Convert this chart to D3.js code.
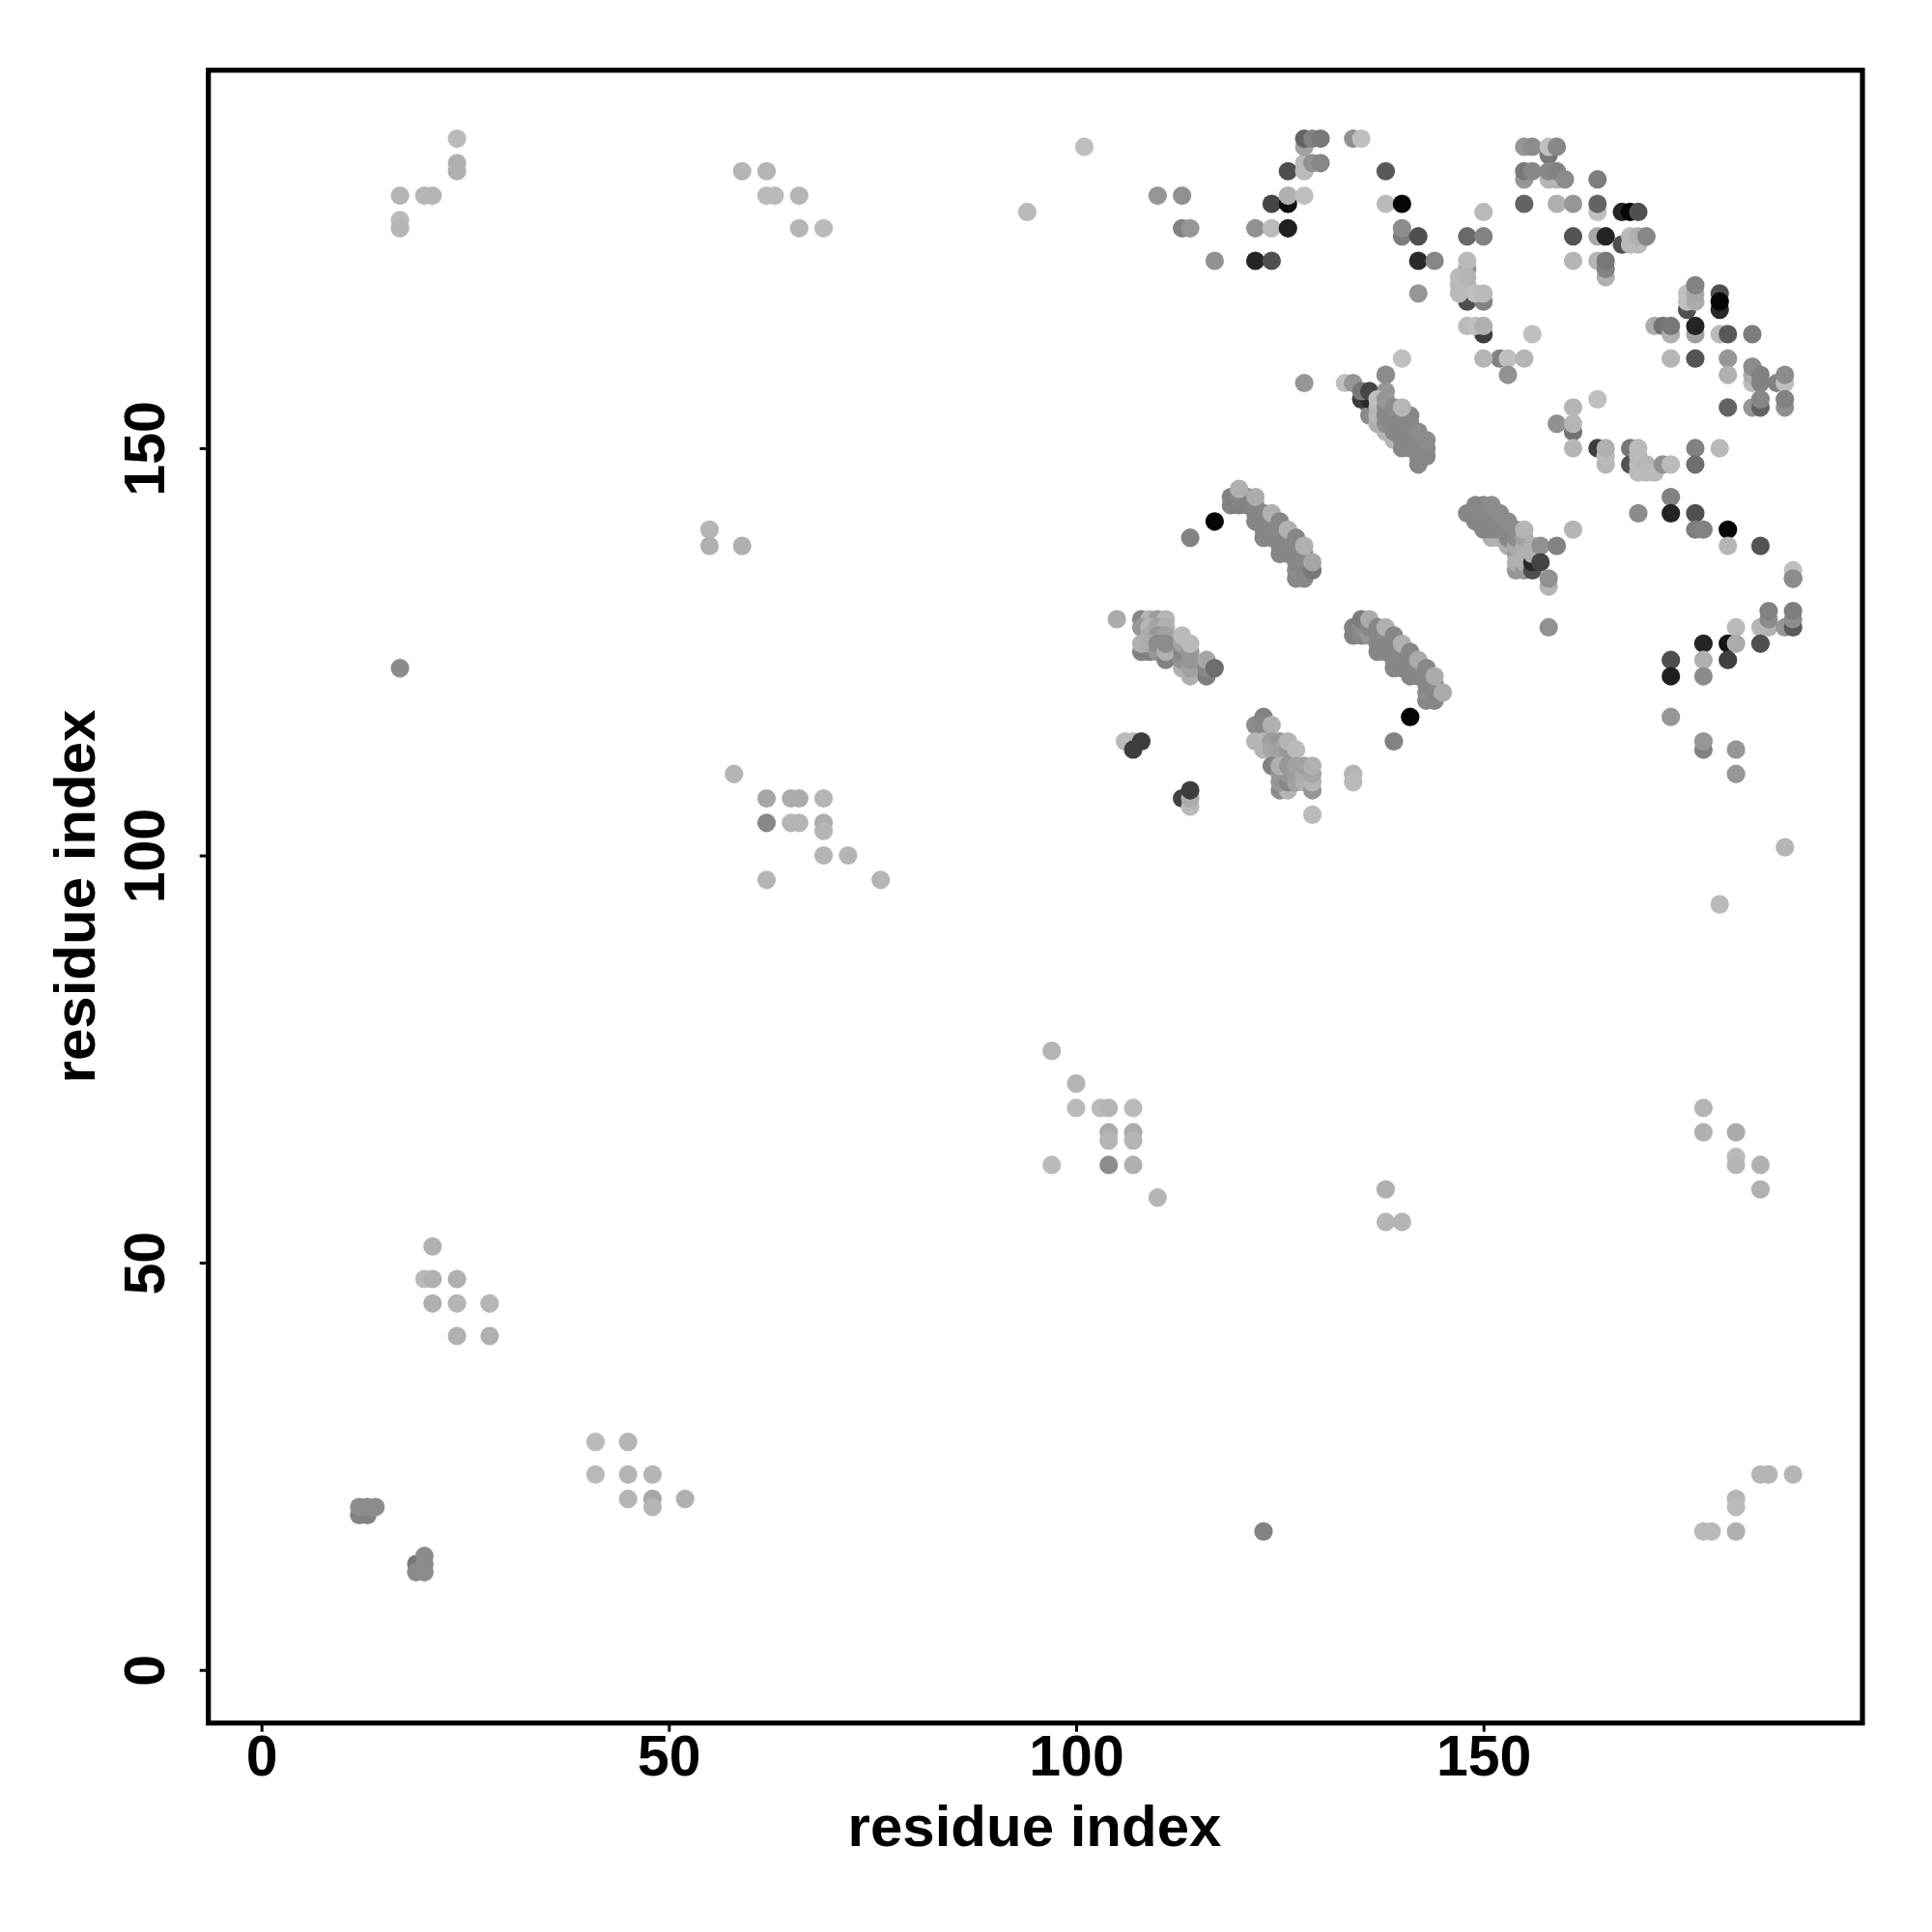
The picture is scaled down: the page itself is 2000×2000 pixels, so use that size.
<!DOCTYPE html>
<html><head><meta charset="utf-8">
<script src="https://cdn.jsdelivr.net/npm/d3@7/dist/d3.min.js"></script>
<style>html,body{margin:0;background:#fff}svg{display:block}</style></head>
<body><svg id="c" width="2000" height="2000"></svg>
<script>
const xTicks=[0,50,100,150];
const yTicks=[0,50,100,150];
const xTitle="residue index", yTitle="residue index";
// each contact: [residue i, residue j, strength 0-100]
const farContacts=[
[24,188,27],[24,185,31],[24,184,31],[17,181,29],[20,181,29],[21,181,29],[17,178,27],[17,177,29],
[59,184,29],[62,184,29],[62,181,27],[63,181,27],[66,181,29],[66,177,29],[69,177,27],[94,179,27],
[55,140,29],[55,138,31],[59,138,31],[17,123,45],
[58,110,29],[62,107,35],[65,107,33],[66,107,33],[69,107,29],[62,104,47],[65,104,29],[66,104,29],[69,104,33],[69,103,29],[69,100,29],[72,100,29],[62,97,29],[76,97,29],
[97,76,29],[100,72,29],[100,69,27],[103,69,27],[104,69,29],[107,69,27],[104,66,33],[104,65,29],[107,66,33],[107,65,29],[97,62,27],[104,62,45],[107,62,31],[110,58,29],
[138,59,31],[138,55,29],[140,55,29],[177,69,29],[177,66,31],[181,66,33],[181,63,27],[181,62,29],[184,62,31],[184,59,31],
[21,52,31],[20,48,27],[21,48,31],[24,48,31],[21,45,31],[24,45,29],[28,45,29],[24,41,31],[28,41,31],
[41,28,27],[45,28,29],[41,24,27],[45,24,29],[48,24,29],[45,21,29],[48,21,35],[52,21,31],[48,20,29],
[123,17,49],[184,24,29],[185,24,29],[188,24,29],[181,21,29],[181,20,27],[177,17,27],[178,17,27],[181,17,31],
[12,19,49],[13,19,49],[12,20,45],[13,20,45],[14,20,45],[19,13,53],[19,12,45],[20,14,45],[20,13,45],[20,12,45],
[187,101,29],[179,94,27],[158,128,43]
];
const topContacts=[
[101,187,25],[110,181,41],[113,181,43],[113,177,49],[114,177,41],[117,173,43],[122,173,86],[124,173,69],[122,177,43],[124,177,27],[126,177,88],
[124,180,73],[126,180,94],[126,181,31],[128,181,25],[126,184,69],[128,184,27],[128,185,27],[129,185,43],[130,185,47],[128,187,37],[128,188,61],[129,188,49],[130,188,53],
[134,188,43],[135,188,25],[138,184,65],[138,180,27],[140,180,98],[140,176,51],[140,177,45],[142,176,69],[142,173,84],[144,173,47],[142,169,41],[140,161,25],[138,159,45],[128,158,41],
[155,187,41],[156,187,45],[158,186,53],[158,187,25],[159,187,47],[155,183,41],[158,183,29],[159,183,29],[155,184,53],[156,184,47],[158,184,47],[159,184,49],[160,183,45],[164,183,51],
[155,180,61],[159,180,31],[161,180,41],[164,179,25],[164,180,61],[150,179,27],[167,179,86],[168,179,98],[169,179,69],
[148,176,59],[150,176,49],[161,176,67],[164,176,35],[165,176,86],[167,175,69],[168,176,27],[168,175,27],[169,175,27],[169,176,31],[170,176,47],
[161,173,29],[164,173,29],[165,171,31],[165,172,49],[165,173,53],[148,172,41],[148,173,27],[148,168,69],[150,168,49],[147,171,27],[147,170,27],[148,171,29],[148,170,29],[147,169,27],[149,169,25],[150,169,27],
[150,164,76],[148,165,27],[149,165,25],[150,165,31],[156,164,25],[152,161,49],[150,161,29],[153,161,25],[155,161,29],[153,159,43],[161,155,29],[164,156,25],
[159,153,43],[161,152,55],[161,153,29],[161,150,29],
[175,167,69],[175,169,25],[175,168,25],[176,168,33],[176,169,35],[176,170,49],[179,169,69],[179,167,84],[179,168,98],
[171,165,33],[172,165,55],[173,164,31],[173,165,53],[176,164,37],[176,165,86],[179,164,27],[180,164,65],[183,164,51],[173,161,29],[176,161,67],[180,161,41],[180,159,31],
[183,158,27],[183,159,33],[183,160,45],[184,158,49],[184,159,49],[186,158,49],[187,158,25],[187,159,45],[180,155,61],[183,155,41],[184,155,61],[184,156,47],[187,155,43],[187,156,49]
];
const rightContacts=[
[164,150,76],[165,148,29],[165,149,27],[165,150,31],[168,150,53],[168,148,67],[169,150,27],[169,149,27],[169,148,27],[169,147,27],[170,148,29],[170,147,27],[171,147,27],[172,148,43],[173,148,27],
[176,150,49],[176,148,57],[179,150,27],[173,144,49],[173,142,86],[169,142,45],[176,142,69],[176,140,51],[177,140,49],[180,140,98],[180,138,29],[184,138,67],[188,134,65],[188,135,25],
[188,134,45],[185,128,31],[184,128,29],[187,128,41],[188,128,65],[185,129,45],[185,130,49],[188,129,45],[188,130,51],[181,128,27],[180,126,92],[181,126,33],[184,126,69],[177,126,86],[177,124,31],[180,124,75],[173,124,69],[173,122,88],[177,122,45],
[173,117,41],[177,113,49],[177,114,41],[181,113,41],[181,110,41]
];
const bandContacts=[
// upper-right diagonal
[133,158,25],[134,158,41],[138,159,45],[136,154,45],[136,155,45],[135,156,76],[136,156,84],[135,157,53],[136,157,73],[138,157,41],
[138,152,29],[139,151,29],[137,153,31],[137,154,29],[137,155,29],[137,156,25],[138,153,45],[138,154,47],[138,155,47],[138,156,41],[139,152,47],[139,153,47],[139,154,47],[139,155,45],
[140,150,47],[140,151,47],[140,152,47],[140,153,47],[140,154,47],[141,150,47],[141,151,47],[141,152,47],[141,153,47],[141,154,47],
[142,148,47],[142,149,47],[142,150,47],[142,151,47],[142,152,45],[143,149,47],[143,150,47],[143,151,45],[140,155,29],
// middle diagonal
[148,142,47],[149,141,47],[149,142,47],[149,143,47],[151,139,31],[152,139,31],[150,140,47],[150,141,47],[150,142,47],[150,143,47],[151,140,47],[151,141,47],[151,142,47],[151,143,45],[152,140,47],[152,141,47],[152,142,45],
[153,138,31],[153,139,47],[153,140,47],[153,141,45],[154,135,41],[154,137,41],[154,136,31],[154,138,33],[154,139,45],[154,140,45],[155,135,41],[155,136,31],[155,137,31],[155,138,31],[155,139,37],[155,140,29],
[156,135,69],[156,136,84],[156,138,31],[156,137,31],[157,138,43],[159,138,49],[161,140,29],[157,136,73],[158,133,29],[158,134,43],
// upper-left diagonal
[117,141,98],[114,139,49],[119,143,49],[119,144,49],[120,143,49],[120,144,47],[121,143,49],[121,144,49],[120,145,31],
[122,141,47],[122,142,47],[122,143,47],[122,144,33],[123,139,47],[123,140,47],[123,141,47],[123,142,47],[124,139,47],[124,140,47],[124,141,47],[124,142,31],
[125,137,47],[125,138,47],[125,139,47],[125,140,47],[125,141,47],[126,137,47],[126,138,47],[126,139,47],[126,140,31],
[127,134,47],[127,135,45],[127,136,47],[127,137,47],[127,138,47],[127,139,47],[128,134,47],[128,135,47],[128,136,47],[128,137,47],[128,138,31],[129,135,53],[129,136,35],
// lower-right diagonal
[134,127,49],[134,128,49],[135,127,47],[135,128,45],[135,129,51],[136,127,41],[136,128,47],[136,129,33],
[137,125,47],[137,126,47],[137,127,47],[137,128,47],[138,125,47],[138,126,47],[138,127,47],[138,128,31],
[139,123,47],[139,124,47],[139,125,47],[139,126,47],[139,127,47],[140,123,47],[140,124,47],[140,125,47],[140,126,31],
[141,122,47],[141,123,47],[141,124,47],[141,125,47],[142,122,47],[142,123,47],[142,124,33],
[143,119,47],[143,120,45],[143,121,47],[143,122,47],[143,123,47],[144,119,47],[144,120,47],[144,121,47],[144,122,33],[145,120,33],[141,117,98],[139,114,49],
// lower-left diagonal
[105,129,33],[108,129,47],[109,129,29],[110,129,39],[111,129,29],[108,128,41],[109,128,29],[110,128,37],[111,128,31],[109,127,33],[110,127,41],[111,127,37],
[109,125,49],[108,125,49],[108,126,31],[109,126,33],[110,125,41],[110,126,45],[111,124,49],[111,125,31],[111,126,45],
[113,123,31],[113,124,43],[113,125,47],[113,126,37],[113,127,27],[114,122,31],[114,123,37],[114,124,41],[114,125,41],[114,126,27],
[116,122,51],[116,123,47],[116,124,35],[117,123,57],
// lowest cluster
[106,114,27],[107,114,27],[107,113,76],[108,114,76],[113,107,75],[114,106,27],[114,107,33],[114,108,76],
[122,116,45],[123,117,49],[123,116,47],[124,116,31],[122,114,29],[123,114,29],[123,113,29],[124,114,39],[124,113,35],[125,114,41],[125,113,37],[126,113,41],[126,114,29],[127,113,27],
[124,111,49],[125,108,45],[126,108,29],[125,109,41],[125,110,41],[126,109,47],[126,110,41],[125,111,31],[126,111,41],[127,109,37],[127,110,39],[127,111,37],[128,109,31],[128,110,33],[128,111,37],
[129,108,41],[129,109,29],[129,110,35],[129,111,31],[129,105,27],[134,110,29],[134,109,27]
];
const contacts=[...farContacts,...topContacts,...rightContacts,...bandContacts];

const x=d3.scaleLinear().domain([-6.52,196.4]).range([215.7,1927]);
const y=d3.scaleLinear().domain([-6.52,196.4]).range([1783.7,72.7]);
const shade=d3.scaleLinear().domain([0,100]).range(["#ffffff","#000000"]);
const svg=d3.select("#c");
const font="'Liberation Sans',Arial,sans-serif";

svg.append("g").selectAll("circle").data(contacts).join("circle")
  .attr("cx",d=>x(d[0])).attr("cy",d=>y(d[1])).attr("r",9.6).attr("fill",d=>shade(d[2]));

const ax=svg.append("g").attr("transform","translate(0,1783.7)")
  .call(d3.axisBottom(x).tickValues(xTicks).tickSize(9).tickFormat(d3.format("d")));
const ay=svg.append("g").attr("transform","translate(215.7,0)")
  .call(d3.axisLeft(y).tickValues(yTicks).tickSize(9).tickFormat(d3.format("d")));
[ax,ay].forEach(a=>{a.select(".domain").remove();
  a.selectAll("line").attr("stroke","#000").attr("stroke-width",3);
  a.selectAll("text").attr("font-family",font).attr("font-weight","bold").attr("font-size",59).attr("fill","#000");});
ax.selectAll("text").attr("dy",null).attr("text-anchor","middle").attr("y",54.5);
ay.selectAll("text").attr("x",null).attr("dy",null).attr("text-anchor","middle")
  .attr("transform","translate(-45.5,0) rotate(-90)");

svg.append("rect").attr("x",215.7).attr("y",72.7).attr("width",1928-215.7).attr("height",1783.7-72.7)
  .attr("fill","none").attr("stroke","#000").attr("stroke-width",5.2);

svg.append("text").attr("x",1071).attr("y",1911).attr("text-anchor","middle")
  .attr("font-family",font).attr("font-weight","bold").attr("font-size",60).text(xTitle);
svg.append("text").attr("transform","translate(98,928) rotate(-90)").attr("text-anchor","middle")
  .attr("font-family",font).attr("font-weight","bold").attr("font-size",60).text(yTitle);
</script></body></html>
